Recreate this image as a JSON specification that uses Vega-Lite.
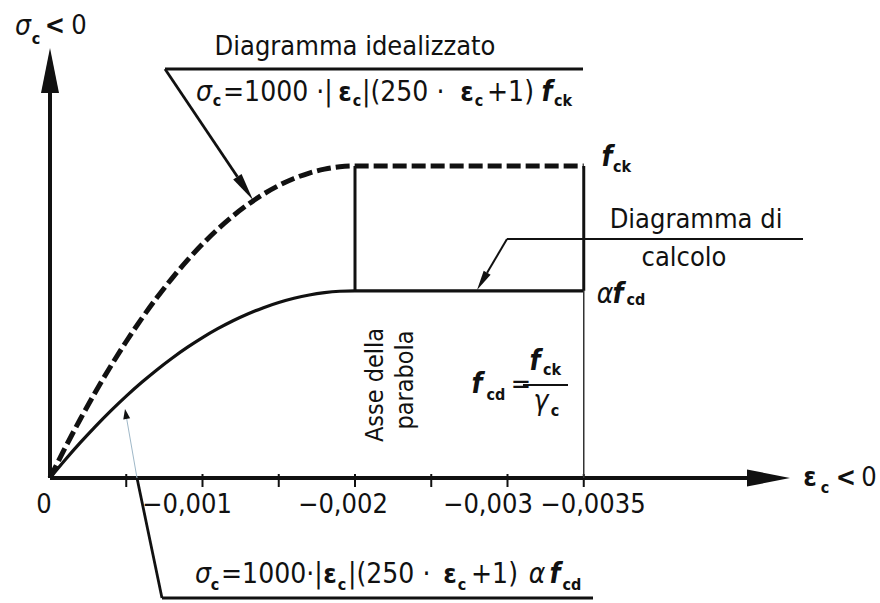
{
  "$schema": "https://vega.github.io/schema/vega-lite/v6.json",
  "width": 880,
  "height": 603,
  "padding": 0,
  "autosize": {"type": "none"},
  "background": "white",
  "config": {"view": {"stroke": null}},
  "encoding": {
    "x": {"field": "x", "type": "quantitative", "axis": null, "scale": {"domain": [-0.327869, 5.442623], "nice": false, "zero": false}},
    "y": {"field": "y", "type": "quantitative", "axis": null, "scale": {"domain": [-0.40064, 1.53205], "nice": false, "zero": false}}
  },
  "layer": [
    {
      "data": {"values": [
        {"x": 0, "y": 0, "x2": 0, "y2": 1.234},
        {"x": 0, "y": 0, "x2": 4.5902, "y2": 0}
      ]},
      "mark": {"type": "rule", "strokeWidth": 4, "color": "#111", "clip": false},
      "encoding": {"x2": {"field": "x2"}, "y2": {"field": "y2"}}
    },
    {
      "data": {"values": [
        {"x": 0.5, "y": 0.0128, "x2": 0.5, "y2": -0.0288},
        {"x": 1.0, "y": 0.0128, "x2": 1.0, "y2": -0.0288},
        {"x": 1.5, "y": 0.0128, "x2": 1.5, "y2": -0.0288},
        {"x": 2.0, "y": 0.0128, "x2": 2.0, "y2": -0.0288},
        {"x": 2.5, "y": 0.0128, "x2": 2.5, "y2": -0.0288},
        {"x": 3.0, "y": 0.0128, "x2": 3.0, "y2": -0.0288},
        {"x": 3.5, "y": 0.0128, "x2": 3.5, "y2": -0.0288}
      ]},
      "mark": {"type": "rule", "strokeWidth": 2, "color": "#111"},
      "encoding": {"x2": {"field": "x2"}, "y2": {"field": "y2"}}
    },
    {
      "data": {"values": [{"x": 0, "y": 1.3782}]},
      "mark": {"type": "point", "shape": "M0,0L-0.2,1L0.2,1Z", "filled": true, "size": 8100, "angle": 0, "color": "#111", "opacity": 1, "strokeWidth": 0},
      "encoding": {}
    },
    {
      "data": {"values": [{"x": 4.8525, "y": 0}]},
      "mark": {"type": "point", "shape": "M0,0L-0.2,1L0.2,1Z", "filled": true, "size": 7396, "angle": 90, "color": "#111", "opacity": 1, "strokeWidth": 0},
      "encoding": {}
    },
    {
      "data": {"values": [
        {"x": 0, "y": 0}, {"x": 0.1, "y": 0.0975}, {"x": 0.2, "y": 0.19}, {"x": 0.3, "y": 0.2775},
        {"x": 0.4, "y": 0.36}, {"x": 0.5, "y": 0.4375}, {"x": 0.6, "y": 0.51}, {"x": 0.7, "y": 0.5775},
        {"x": 0.8, "y": 0.64}, {"x": 0.9, "y": 0.6975}, {"x": 1.0, "y": 0.75}, {"x": 1.1, "y": 0.7975},
        {"x": 1.2, "y": 0.84}, {"x": 1.3, "y": 0.8775}, {"x": 1.4, "y": 0.91}, {"x": 1.5, "y": 0.9375},
        {"x": 1.6, "y": 0.96}, {"x": 1.7, "y": 0.9775}, {"x": 1.8, "y": 0.99}, {"x": 1.9, "y": 0.9975},
        {"x": 2.0, "y": 1.0}, {"x": 3.5, "y": 1.0}
      ]},
      "mark": {"type": "line", "strokeWidth": 5, "strokeDash": [14, 5], "color": "#111", "interpolate": "monotone", "strokeCap": "butt"}
    },
    {
      "data": {"values": [
        {"x": 0, "y": 0}, {"x": 0.1, "y": 0.0585}, {"x": 0.2, "y": 0.114}, {"x": 0.3, "y": 0.1665},
        {"x": 0.4, "y": 0.216}, {"x": 0.5, "y": 0.2625}, {"x": 0.6, "y": 0.306}, {"x": 0.7, "y": 0.3465},
        {"x": 0.8, "y": 0.384}, {"x": 0.9, "y": 0.4185}, {"x": 1.0, "y": 0.45}, {"x": 1.1, "y": 0.4785},
        {"x": 1.2, "y": 0.504}, {"x": 1.3, "y": 0.5265}, {"x": 1.4, "y": 0.546}, {"x": 1.5, "y": 0.5625},
        {"x": 1.6, "y": 0.576}, {"x": 1.7, "y": 0.5865}, {"x": 1.8, "y": 0.594}, {"x": 1.9, "y": 0.5985},
        {"x": 2.0, "y": 0.6}, {"x": 3.5, "y": 0.6}
      ]},
      "mark": {"type": "line", "strokeWidth": 3.2, "color": "#111", "interpolate": "monotone"}
    },
    {
      "data": {"values": [
        {"x": 2.0, "y": 0.6, "x2": 2.0, "y2": 1.0},
        {"x": 3.5, "y": 1.0, "x2": 3.5, "y2": 0.6}
      ]},
      "mark": {"type": "rule", "strokeWidth": 3, "color": "#111"},
      "encoding": {"x2": {"field": "x2"}, "y2": {"field": "y2"}}
    },
    {
      "data": {"values": [{"x": 3.5, "y": 0.6, "x2": 3.5, "y2": 0}]},
      "mark": {"type": "rule", "strokeWidth": 1.5, "color": "#333"},
      "encoding": {"x2": {"field": "x2"}, "y2": {"field": "y2"}}
    },
    {
      "data": {"values": [
        {"x": 0.7541, "y": 1.3109, "x2": 3.4951, "y2": 1.3109},
        {"x": 0.7541, "y": 1.3109, "x2": 1.2289, "y2": 0.9654},
        {"x": 0.7344, "y": -0.3846, "x2": 3.5607, "y2": -0.3846},
        {"x": 0.7344, "y": -0.3846, "x2": 0.5705, "y2": 0}
      ]},
      "mark": {"type": "rule", "strokeWidth": 2.8, "color": "#111", "clip": false},
      "encoding": {"x2": {"field": "x2"}, "y2": {"field": "y2"}}
    },
    {
      "data": {"values": [
        {"x": 2.9967, "y": 0.766, "x2": 4.9377, "y2": 0.766},
        {"x": 2.9967, "y": 0.766, "x2": 2.8662, "y2": 0.6577}
      ]},
      "mark": {"type": "rule", "strokeWidth": 2, "color": "#111"},
      "encoding": {"x2": {"field": "x2"}, "y2": {"field": "y2"}}
    },
    {
      "data": {"values": [{"x": 0.5705, "y": 0, "x2": 0.503, "y2": 0.1894}]},
      "mark": {"type": "rule", "strokeWidth": 1, "color": "#9fb8c8"},
      "encoding": {"x2": {"field": "x2"}, "y2": {"field": "y2"}}
    },
    {
      "data": {"values": [{"x": 3.1016, "y": 0.2981, "x2": 3.3967, "y2": 0.2981}]},
      "mark": {"type": "rule", "strokeWidth": 2, "color": "#111"},
      "encoding": {"x2": {"field": "x2"}, "y2": {"field": "y2"}}
    },
    {
      "data": {"values": [{"x": 1.3311, "y": 0.891}]},
      "mark": {"type": "point", "shape": "M0,0L-0.18,1L0.18,1Z", "filled": true, "size": 3136, "angle": 146.1, "color": "#111", "opacity": 1, "strokeWidth": 0},
      "encoding": {}
    },
    {
      "data": {"values": [{"x": 2.8, "y": 0.6026}]},
      "mark": {"type": "point", "shape": "M0,0L-0.2,1L0.2,1Z", "filled": true, "size": 1600, "angle": 210.5, "color": "#111", "opacity": 1, "strokeWidth": 0},
      "encoding": {}
    },
    {
      "data": {"values": [{"x": 0.4918, "y": 0.2212}]},
      "mark": {"type": "point", "shape": "M0,0L-0.35,1L0.35,1Z", "filled": true, "size": 400, "angle": -9.9, "color": "#111", "opacity": 1, "strokeWidth": 0},
      "encoding": {}
    },
    {
      "data": {"values": [
        {"x": 2.0, "y": 1.3814, "t": "Diagramma idealizzato"},
        {"x": 4.2361, "y": 0.8269, "t": "Diagramma di"},
        {"x": 4.1574, "y": 0.7051, "t": "calcolo"},
        {"x": 3.0886, "y": 0.2981, "t": "="},
        {"x": -0.0393, "y": -0.0865, "t": "0"},
        {"x": 0.8984, "y": -0.0865, "t": "−0,001"},
        {"x": 1.9213, "y": -0.0865, "t": "−0,002"},
        {"x": 2.8721, "y": -0.0865, "t": "−0,003"},
        {"x": 3.5607, "y": -0.0865, "t": "−0,0035"},
        {"x": 0.1902, "y": 1.4487, "t": "0"},
        {"x": 5.3705, "y": 0, "t": "0"}
      ]},
      "mark": {"type": "text", "font": "DejaVu Sans Condensed, Liberation Sans Narrow, sans-serif", "fontSize": 27, "color": "#111", "align": "center", "baseline": "middle"},
      "encoding": {"text": {"field": "t"}}
    },
    {
      "data": {"values": [
        {"x": 1.1344, "y": 1.234, "t": "=1000 ·|"},
        {"x": 2.0459, "y": 1.234, "t": "|(250 ·"},
        {"x": 2.8656, "y": 1.234, "t": "+1)"},
        {"x": 1.1213, "y": -0.3109, "t": "=1000·|"},
        {"x": 1.9541, "y": -0.3109, "t": "|(250 ·"},
        {"x": 2.7607, "y": -0.3109, "t": "+1)"}
      ]},
      "mark": {"type": "text", "font": "DejaVu Sans Condensed, Liberation Sans Narrow, sans-serif", "fontSize": 28, "color": "#111", "align": "left", "baseline": "middle"},
      "encoding": {"text": {"field": "t"}}
    },
    {
      "data": {"values": [
        {"x": -0.177, "y": 1.4455, "t": "σ"},
        {"x": 1.0098, "y": 1.234, "t": "σ"},
        {"x": 1.0033, "y": -0.3109, "t": "σ"},
        {"x": 3.1934, "y": -0.3109, "t": "α"},
        {"x": 3.6393, "y": 0.5865, "t": "α"},
        {"x": 3.2197, "y": 0.2436, "t": "γ"}
      ]},
      "mark": {"type": "text", "font": "DejaVu Sans Condensed, Liberation Sans Narrow, sans-serif", "fontSize": 28, "fontStyle": "italic", "color": "#111", "align": "center", "baseline": "middle"},
      "encoding": {"text": {"field": "t"}}
    },
    {
      "data": {"values": [
        {"x": 3.259, "y": 1.234, "t": "f"},
        {"x": 3.3115, "y": -0.3109, "t": "f"},
        {"x": 3.6525, "y": 1.0256, "t": "f"},
        {"x": 3.7246, "y": 0.5865, "t": "f"},
        {"x": 2.8, "y": 0.2981, "t": "f"},
        {"x": 3.1803, "y": 0.3718, "t": "f"}
      ]},
      "mark": {"type": "text", "font": "DejaVu Sans Condensed, Liberation Sans Narrow, sans-serif", "fontSize": 28, "fontStyle": "italic", "fontWeight": "bold", "color": "#111", "align": "center", "baseline": "middle"},
      "encoding": {"text": {"field": "t"}}
    },
    {
      "data": {"values": [
        {"x": -0.0918, "y": 1.4071, "t": "c"},
        {"x": 5.082, "y": -0.0321, "t": "c"},
        {"x": 1.0951, "y": 1.2083, "t": "c"},
        {"x": 2.0131, "y": 1.2083, "t": "c"},
        {"x": 2.8131, "y": 1.2083, "t": "c"},
        {"x": 3.3639, "y": 1.2083, "t": "ck"},
        {"x": 1.082, "y": -0.3429, "t": "c"},
        {"x": 1.9148, "y": -0.3429, "t": "c"},
        {"x": 2.7016, "y": -0.3429, "t": "c"},
        {"x": 3.423, "y": -0.3429, "t": "cd"},
        {"x": 3.7508, "y": 0.9968, "t": "ck"},
        {"x": 3.8426, "y": 0.5705, "t": "cd"},
        {"x": 2.9246, "y": 0.266, "t": "cd"},
        {"x": 3.2918, "y": 0.3462, "t": "ck"},
        {"x": 3.3115, "y": 0.2147, "t": "c"}
      ]},
      "mark": {"type": "text", "font": "DejaVu Sans Condensed, Liberation Sans Narrow, sans-serif", "fontSize": 16, "fontWeight": "bold", "color": "#111", "align": "center", "baseline": "middle"},
      "encoding": {"text": {"field": "t"}}
    },
    {
      "data": {"values": [
        {"x": 1.9344, "y": 1.234, "t": "ε"},
        {"x": 2.7344, "y": 1.234, "t": "ε"},
        {"x": 1.8361, "y": -0.3109, "t": "ε"},
        {"x": 2.623, "y": -0.3109, "t": "ε"},
        {"x": 4.9836, "y": 0, "t": "ε"},
        {"x": 0.0328, "y": 1.4487, "t": "<"},
        {"x": 5.2197, "y": 0, "t": "<"}
      ]},
      "mark": {"type": "text", "font": "DejaVu Sans Condensed, Liberation Sans Narrow, sans-serif", "fontSize": 27, "fontWeight": "bold", "color": "#111", "align": "center", "baseline": "middle"},
      "encoding": {"text": {"field": "t"}}
    },
    {
      "data": {"values": [
        {"x": 2.1311, "y": 0.2981, "t": "Asse  della"},
        {"x": 2.3279, "y": 0.3141, "t": "parabola"}
      ]},
      "mark": {"type": "text", "font": "DejaVu Sans Condensed, Liberation Sans Narrow, sans-serif", "fontSize": 25, "angle": 270, "color": "#111", "align": "center", "baseline": "middle"},
      "encoding": {"text": {"field": "t"}}
    }
  ]
}
